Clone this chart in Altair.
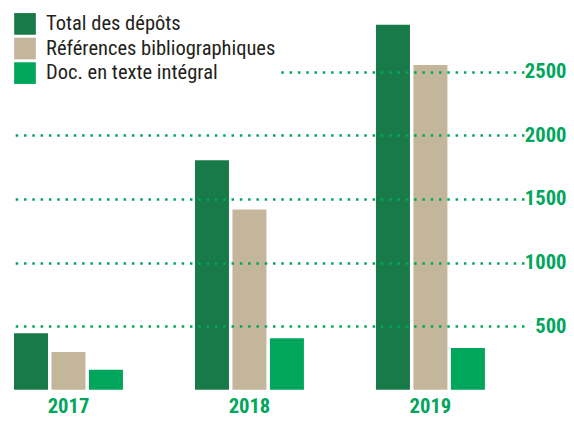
import altair as alt
import pandas as pd

years = ["2017", "2018", "2019"]
series = ["Total des dépôts", "Références bibliographiques", "Doc. en texte intégral"]
total = [444, 1804, 2870]
refs = [297, 1417, 2553]
docs = [158, 405, 328]
tick_values = [500, 1000, 1500, 2000, 2500]
colors = ["#187a48", "#c4b69b", "#00a65b"]
G = "#00a65b"
FONT = "Roboto Condensed, Roboto"

rows = []
for i, y in enumerate(years):
    for s, vals in zip(series, [total, refs, docs]):
        rows.append({"annee": y, "serie": s, "valeur": vals[i]})
df = pd.DataFrame(rows)

chart = alt.Chart(df).mark_bar().encode(
    x=alt.X("annee:N", sort=years,
            scale=alt.Scale(paddingInner=0.398, paddingOuter=0.108, align=0),
            axis=alt.Axis(title=None, labelAngle=0, domain=False, ticks=False,
                          labelFont=FONT, labelFontSize=20.6, labelFontWeight="bold",
                          labelColor=G, labelBaseline="alphabetic", labelPadding=25.5)),
    xOffset=alt.XOffset("serie:N", sort=series, scale=alt.Scale(paddingInner=0.093)),
    y=alt.Y("valeur:Q",
            scale=alt.Scale(domain=[21, 2963], nice=False, zero=False),
            axis=alt.Axis(orient="right", values=tick_values, format="d", title=None,
                          domain=False, ticks=False, labelAlign="right", labelPadding=42,
                          labelFont=FONT, labelFontSize=20.6, labelFontWeight="bold",
                          labelColor=G, grid=True, gridDash=[2.5, 5.8], gridWidth=2.5,
                          gridColor=G, zindex=1)),
    color=alt.Color("serie:N", sort=series,
                    scale=alt.Scale(domain=series, range=colors),
                    legend=alt.Legend(title=None, orient="none", legendX=0, legendY=0,
                                      symbolType="square", symbolSize=470,
                                      symbolStrokeWidth=0, labelFont=FONT,
                                      labelFontSize=20.5, labelColor="#231f20",
                                      labelOffset=10, rowPadding=2.6, padding=0,
                                      labelLimit=400, fillColor="white", zindex=2)),
).properties(
    width=510, height=374.2,
    autosize=alt.AutoSizeParams(type="none"),
    padding={"left": 6, "top": 4.9, "right": 42, "bottom": 25.9},
).configure_view(stroke=None)

chart.save("out.html", embed_options={"renderer": "svg", "actions": False})
